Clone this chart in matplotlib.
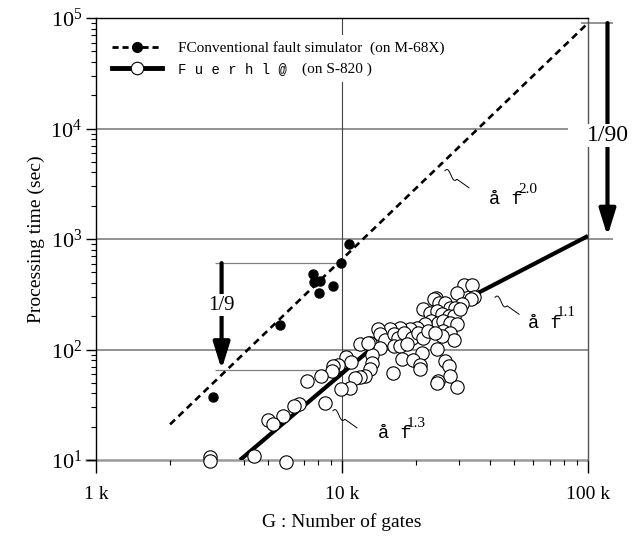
import numpy as np
import matplotlib
matplotlib.use("Agg")
import matplotlib.pyplot as plt
from matplotlib.lines import Line2D
from matplotlib.transforms import ScaledTranslation, IdentityTransform
from matplotlib.ticker import FixedLocator, FixedFormatter, LogLocator, NullFormatter

plt.rcParams["font.family"] = "Liberation Serif"
plt.rcParams["mathtext.fontset"] = "custom"
plt.rcParams["mathtext.rm"] = "Liberation Serif"

# conventional fault simulator (M-68X), filled dots
conv_gates = [10700, 9930, 7640, 7690, 8140, 9220, 8090, 5600, 3000]
conv_time = [906, 601, 481, 404, 418, 376, 327, 166, 37]

# new simulator (S-820), open circles
new_gates = [31300, 33800, 29300, 34400, 33400, 24100, 23700, 24700, 26200, 30800,
             27500, 28800, 21400, 22800, 24300, 25400, 27100, 28400, 30200, 23100,
             24600, 25800, 27500, 29300, 21800, 20100, 18900, 17200, 15700, 14000,
             13000, 14300, 15000, 16200, 16900, 17800, 19200, 20400, 21400, 22400,
             25800, 27500, 28600, 25400, 23900, 16200, 17200, 18300, 14300, 13200,
             11800, 12800, 24300, 21100, 17500, 19500, 20800, 20800, 13200, 13000,
             12400, 16100, 26200, 27100, 27500, 24600, 24300, 29300,
             10400, 10900, 9660, 9220, 9080, 8190, 7230, 11800, 11300, 10800,
             9880, 8560, 6690, 6380, 5740, 5020, 5260, 4400, 5900, 2910, 2910]
new_time = [382, 382, 323, 301, 285, 295, 285, 266, 266, 260,
            239, 239, 234, 215, 223, 208, 201, 201, 231, 181,
            175, 181, 175, 169, 169, 157, 152, 157, 152, 152,
            115, 137, 123, 137, 128, 142, 128, 142, 128, 147,
            147, 142, 121, 132, 142, 107, 107, 111, 104, 90,
            111, 115, 102, 93, 82, 81, 73, 66, 76, 66,
            57, 61, 78, 71, 58, 52, 50, 46,
            86, 77, 73, 71, 64, 58, 52, 56, 55, 45,
            44, 33, 32, 31, 25, 23, 21, 10.9, 9.5, 10.7, 9.7]

# fitted trend lines
fit_conv_gates = [2000, 100000]
fit_conv_time = [21, 90000]
fit_new_gates = [3850, 13300, 100000]
fit_new_time = [10, 104, 1065]

x_ticks = [1000, 10000, 100000]
x_labels = ["1 k", "10 k", "100 k"]

# speed-up ratios
ratio9_x, ratio9_top, ratio9_bottom = 3240, 605, 66
ratio90_x, ratio90_top, ratio90_bottom = 120000, 90000, 1065

# power-law labels: anchor of text, start of wavy leader
power_labels = [("2.0", (39600, 2080), (26200, 4150)),
                ("1.1", (57000, 158), (41900, 297)),
                ("1.3", (14000, 15.8), (9180, 27.9))]

GRID = "#808080"


def squiggle(ax, x0, y0, w=24, h=17):
    # little wavy leader line, drawn in pixels from a data anchor
    t = np.linspace(0, 1, 60)
    xs = w * t
    ys = -h * t + 3 * np.sin(4 * np.pi * t) * (t < 0.5)
    trans = ax.figure.dpi_scale_trans + ScaledTranslation(x0, y0, ax.transData)
    ax.add_line(Line2D(xs / 100, ys / 100, transform=trans, color="k", lw=0.7, clip_on=False))


fig = plt.figure(figsize=(6.43, 5.39), dpi=100)
ax = fig.add_axes([96 / 643, 1 - 460 / 539, 492 / 643, 442 / 539])
ax.set_xscale("log")
ax.set_yscale("log")

# grid pieces
ax.hlines(10, 902, 1e5, color="#999999", lw=1.8, clip_on=False, zorder=1)
ax.hlines(100, 1000, 1e5, color=GRID, lw=1.2, zorder=1)
ax.hlines(1000, 1000, 126000, color=GRID, lw=1.2, clip_on=False, zorder=1)
ax.hlines(1e4, 1000, 83000, color=GRID, lw=1.2, zorder=1)
ax.vlines(1e4, 10, 1e5, color="#444444", lw=0.8, zorder=1)

ax.plot(fit_conv_gates, fit_conv_time, color="k", lw=1.9, ls=(0, (2.6, 1.8)), zorder=3)
ax.plot(fit_new_gates, fit_new_time, color="k", lw=3, solid_capstyle="butt", zorder=3)
ax.plot(conv_gates, conv_time, "o", ms=6.5, color="k", zorder=4)
ax.plot(new_gates, new_time, "o", ms=9.6, mfc="w", mec="k", mew=0.8, ls="none",
        zorder=5, clip_on=False)

# 1/9 arrow
ax.hlines([ratio9_top, ratio9_bottom * 0.98], 3050, 10000, color=GRID, lw=0.9, zorder=2)
ax.annotate("", xy=(ratio9_x, ratio9_bottom), xytext=(ratio9_x, ratio9_top),
            arrowprops=dict(arrowstyle="-|>,head_length=0.8,head_width=0.25", lw=3,
                            color="k", mutation_scale=20, shrinkA=0, shrinkB=0))
ax.text(ratio9_x, 251, "1/9", ha="center", va="center", fontsize=15, zorder=6,
        bbox=dict(fc="w", ec="none", pad=1))

# 1/90 arrow
ax.hlines(ratio90_top, 93700, 126000, color=GRID, lw=1.2, clip_on=False, zorder=1)
ax.annotate("", xy=(ratio90_x, ratio90_bottom), xytext=(ratio90_x, ratio90_top),
            annotation_clip=False,
            arrowprops=dict(arrowstyle="-|>,head_length=0.8,head_width=0.25", lw=3,
                            color="k", mutation_scale=20, shrinkA=0, shrinkB=0,
                            clip_on=False))
ax.text(ratio90_x, 8630, "1/90", ha="center", va="center", fontsize=17, zorder=6,
        clip_on=False, bbox=dict(fc="w", ec="none", pad=1))

for expo, txt_xy, lead_xy in power_labels:
    ax.annotate("å f", xy=txt_xy, fontsize=13.5, family="Liberation Mono", va="baseline")
    ax.annotate(expo, xy=txt_xy, xytext=(21, 8), textcoords="offset points",
                fontsize=11, va="baseline")
    squiggle(ax, *lead_xy)

ax.set_xlim(1000, 1e5)
ax.set_ylim(10, 1e5)

ax.xaxis.set_major_locator(FixedLocator(x_ticks))
ax.xaxis.set_major_formatter(FixedFormatter(x_labels))
ax.xaxis.set_minor_locator(LogLocator(base=10, subs=np.arange(2, 10)))
ax.xaxis.set_minor_formatter(NullFormatter())
ax.yaxis.set_minor_locator(LogLocator(base=10, subs=np.arange(2, 10)))
ax.yaxis.set_minor_formatter(NullFormatter())
ax.tick_params(axis="x", which="major", direction="out", length=9, width=1, labelsize=14, pad=10)
ax.tick_params(axis="x", which="minor", direction="out", length=3.5, width=0.8)
ax.tick_params(axis="y", which="major", direction="out", length=7, width=1, labelsize=16, pad=3)
ax.tick_params(axis="y", which="minor", direction="out", length=3.5, width=0.8)

ax.spines["bottom"].set_visible(False)
ax.spines["right"].set_color("#555555")
for s in ["top", "left", "right"]:
    ax.spines[s].set_linewidth(1)

ax.set_xlabel("G : Number of gates", fontsize=14, labelpad=7)
ax.set_ylabel("Processing time (sec)", fontsize=14, labelpad=4)

handles = [Line2D([], [], color="k", lw=2, ls=(0, (2.2, 1.4)), marker="o", ms=7, mfc="k"),
           Line2D([], [], color="k", lw=3.5, marker="o", ms=9, mfc="w", mec="k", mew=0.8)]
labels = ["FConventional fault simulator  (on M-68X)", "F u e r h l @"]
leg = ax.legend(handles, labels, loc="upper left", bbox_to_anchor=(0.02, 0.9615),
                borderaxespad=0, borderpad=0.4, handlelength=3.3, handletextpad=1.0,
                labelspacing=0.45, fontsize=11, frameon=True, fancybox=False,
                edgecolor="none", facecolor="white", framealpha=1)
leg.set_zorder(7)
leg.get_texts()[1].set_family("Liberation Mono")
leg.get_texts()[1].set_fontsize(10)

fig.canvas.draw()
bb = leg.get_texts()[1].get_window_extent()
fig.text(bb.x1 + 15, (bb.y0 + bb.y1) / 2, "(on S-820 )", transform=IdentityTransform(),
         va="center", fontsize=11)

fig.savefig("out.png", dpi=100)
